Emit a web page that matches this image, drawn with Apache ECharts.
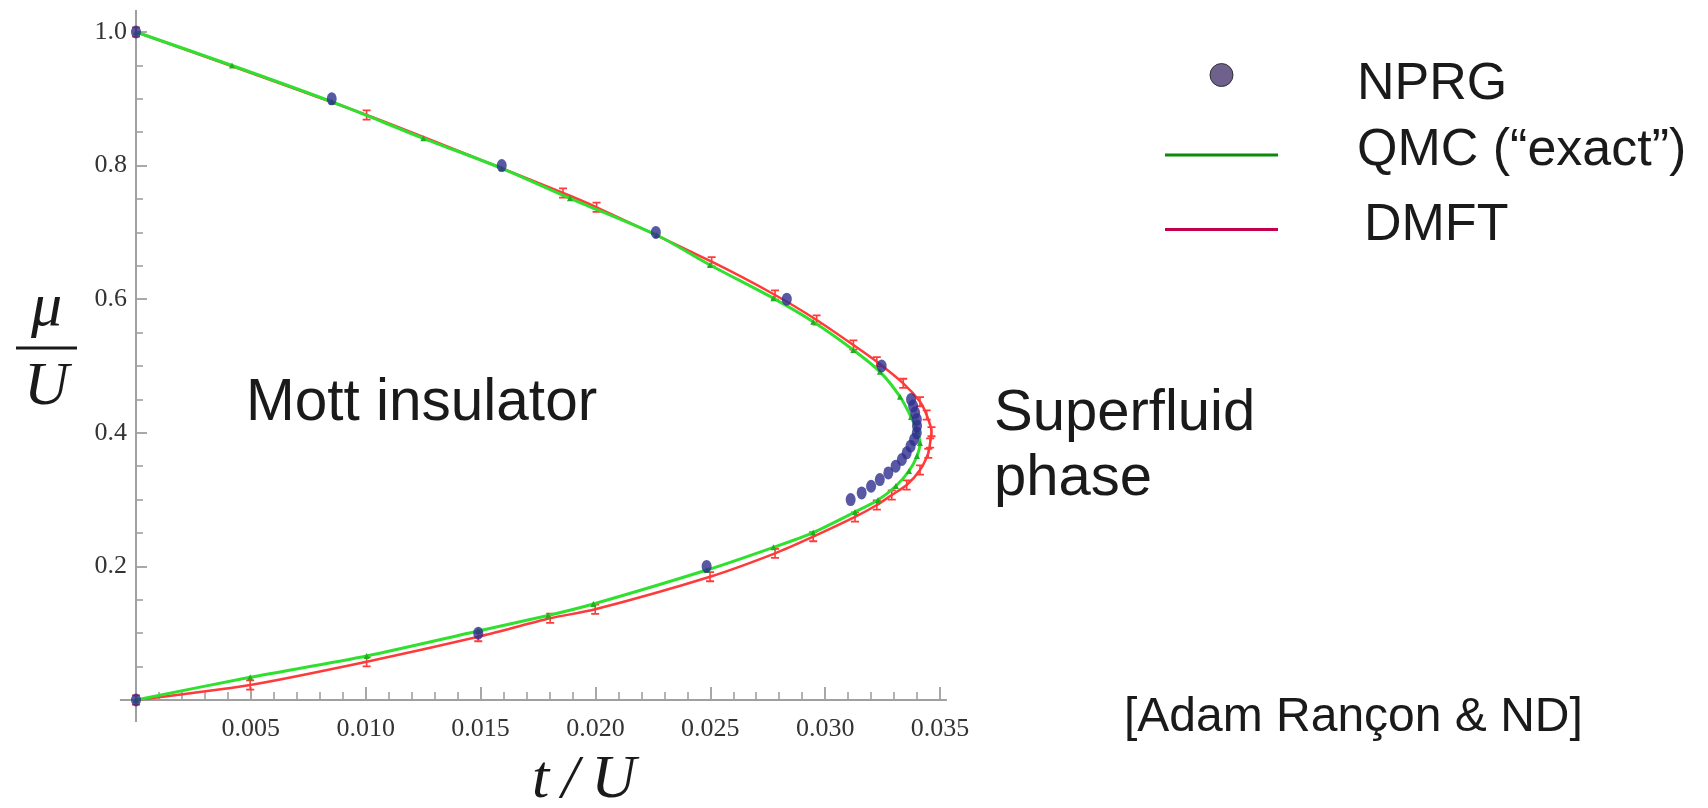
<!DOCTYPE html>
<html><head><meta charset="utf-8">
<script src="https://cdn.jsdelivr.net/npm/echarts@6/dist/echarts.min.js"></script>
<style>html,body{margin:0;padding:0;background:#fff;}#c{width:1708px;height:808px;}</style>
</head><body><div id="c"></div>
<script>
// ---- data (t/U, mu/U) ----
const nprgT  = [0, 0.00852, 0.01592, 0.02263, 0.02833, 0.03246, 0.03374, 0.03383, 0.03392, 0.03399, 0.03400, 0.03399, 0.03387, 0.03372, 0.03355, 0.03334, 0.03307, 0.03275, 0.03238, 0.03200, 0.03159, 0.03111, 0.02484, 0.01490, 0];
const nprgMu = [1.0, 0.9, 0.8, 0.7, 0.6, 0.5, 0.45, 0.44, 0.43, 0.42, 0.41, 0.40, 0.39, 0.38, 0.37, 0.36, 0.35, 0.34, 0.33, 0.32, 0.31, 0.30, 0.2, 0.1, 0.0];

const qmcT  = [0, 0.00418, 0.00852, 0.01251, 0.01592, 0.01889, 0.02266, 0.02499, 0.02775, 0.02948, 0.03123, 0.03238, 0.03326, 0.03374, 0.03400, 0.03413, 0.03400, 0.03365, 0.03308, 0.03230, 0.03130, 0.02948, 0.02775, 0.02485, 0.01991, 0.01794, 0.01490, 0.01004, 0.00497, 0];
const qmcMu = [1.0, 0.9499, 0.8957, 0.8409, 0.7960, 0.7510, 0.6961, 0.6512, 0.6013, 0.5663, 0.5240, 0.4915, 0.4540, 0.4237, 0.4027, 0.3847, 0.3653, 0.3428, 0.3204, 0.2994, 0.2814, 0.2507, 0.2286, 0.1946, 0.1437, 0.1265, 0.1033, 0.0659, 0.0340, 0];

const dmftT  = [0, 0.01004, 0.01859, 0.02005, 0.02506, 0.02782, 0.02963, 0.03123, 0.03225, 0.03340, 0.03413, 0.03442, 0.03463, 0.03457, 0.03449, 0.03413, 0.03355, 0.03290, 0.03225, 0.03130, 0.02948, 0.02782, 0.02499, 0.01999, 0.01803, 0.01490, 0.01004, 0.00497, 0];
const dmftMu = [1.0, 0.8757, 0.7590, 0.7376, 0.6561, 0.6063, 0.5689, 0.5314, 0.5064, 0.4741, 0.4466, 0.4266, 0.4017, 0.3847, 0.3693, 0.3443, 0.3219, 0.3069, 0.2919, 0.2740, 0.2445, 0.2196, 0.1846, 0.1358, 0.1223, 0.0948, 0.0573, 0.0225, 0];

const xTickStep = 0.005;
const yTickStep = 0.2;
const axisExtentT  = [-0.0007, 0.0353];
const axisExtentMu = [-0.033, 1.033];

const pairs = (a, b) => a.map((v, i) => [v, b[i]]);

const chart = echarts.init(document.getElementById('c'));
const serif = 'Liberation Serif';
const sans = 'Liberation Sans';
const legTxt = { fontFamily: sans, fontSize: 52, color: '#1a1a1a' };

chart.setOption({
  animation: false,
  backgroundColor: '#ffffff',
  grid: { left: 136, right: 768, top: 32, bottom: 108, containLabel: false, outerBoundsMode: 'none' },
  xAxis: {
    type: 'value', min: 0, max: 0.035, interval: xTickStep,
    axisLine: { show: true, onZero: true, lineStyle: { color: '#a0a0a0', width: 2 } },
    axisTick: { show: true, inside: true, length: 13, lineStyle: { color: '#8c8c8c', width: 1.5 } },
    minorTick: { show: true, splitNumber: 5, length: 8, lineStyle: { color: '#9a9a9a', width: 1.5 } },
    splitLine: { show: false },
    axisLabel: {
      formatter: v => (Math.abs(v) < 1e-9 ? '' : v.toFixed(3)),
      fontFamily: serif, fontSize: 26, color: '#333', margin: 16
    },
    name: 't\u2009/\u2009U', nameLocation: 'middle', nameGap: 50, nameMoveOverlap: false,
    nameTextStyle: { fontFamily: serif, fontStyle: 'italic', fontSize: 62, color: '#1a1a1a', padding: [0, 0, 0, 92] }
  },
  yAxis: {
    type: 'value', min: 0, max: 1, interval: yTickStep,
    axisLine: { show: true, onZero: true, lineStyle: { color: '#a0a0a0', width: 2 } },
    axisTick: { show: true, inside: true, length: 11, lineStyle: { color: '#8c8c8c', width: 1.5 } },
    minorTick: { show: true, splitNumber: 4, length: 7, lineStyle: { color: '#9a9a9a', width: 1.5 } },
    splitLine: { show: false },
    axisLabel: {
      formatter: v => (Math.abs(v) < 1e-9 ? '' : v.toFixed(1)),
      fontFamily: serif, fontSize: 26, color: '#333', margin: 9
    },
    name: '{a|μ}\n{l| }\n{b|U}', nameLocation: 'middle', nameRotate: 0, nameGap: 59, nameMoveOverlap: false,
    nameTextStyle: {
      padding: [0, 0, 36, 0],
      rich: {
        a: { fontFamily: serif, fontStyle: 'italic', fontSize: 62, lineHeight: 76, color: '#1a1a1a', align: 'center' },
        l: { width: 61, height: 3, lineHeight: 3, fontSize: 1, backgroundColor: '#1a1a1a', align: 'center' },
        b: { fontFamily: serif, fontStyle: 'italic', fontSize: 62, lineHeight: 76, color: '#1a1a1a', align: 'center' }
      }
    }
  },
  legend: {
    orient: 'vertical', left: 1165, top: 48.5, padding: 0, itemGap: 13.5,
    itemWidth: 113, itemHeight: 23, selectedMode: false,
    formatter: name => name === 'NPRG' ? '{s1| }\n{t|' + name + '}'
                     : name === 'DMFT' ? '{s4| }\n{t|' + name + '}\n{s3| }'
                     : '{t|' + name + '}\n{s2| }',
    textStyle: {
      fontFamily: sans, fontSize: 52, color: '#1a1a1a',
      rich: {
        t: Object.assign({ lineHeight: 52 }, legTxt),
        s1: { fontSize: 1, lineHeight: 20 },
        s2: { fontSize: 1, lineHeight: 9 },
        s3: { fontSize: 1, lineHeight: 16 },
        s4: { fontSize: 1, lineHeight: 8 }
      }
    },
    data: [
      { name: 'NPRG', icon: 'circle', itemStyle: { color: '#4a3b70', borderColor: '#1a1a1a', borderWidth: 1 }, textStyle: { padding: [0, 0, 0, 74] } },
      { name: 'QMC (“exact”)', icon: 'path://M0 0H113V3H0Z', itemStyle: { color: '#0c8a0c', borderWidth: 0 }, textStyle: { padding: [0, 0, 0, 74] } },
      { name: 'DMFT', icon: 'path://M0 0H113V3H0Z', itemStyle: { color: '#c4004e', borderWidth: 0 }, textStyle: { padding: [0, 0, 0, 81] } }
    ]
  },
  series: [
    {
      type: 'line', name: 'DMFT', data: pairs(dmftT, dmftMu), smooth: 0.25, clip: false, silent: true,
      symbol: 'path://M0 0H10V2H6V10H10V12H0V10H4V2H0Z', symbolSize: [8, 11], showSymbol: true,
      lineStyle: { color: '#ff3a3a', width: 2.5 }, itemStyle: { color: '#ff3a3a' }, z: 2
    },
    {
      type: 'line', name: 'QMC (“exact”)', data: pairs(qmcT, qmcMu), smooth: 0.25, clip: false, silent: true,
      symbol: 'triangle', symbolSize: 6, showSymbol: true,
      lineStyle: { color: '#2fe02f', width: 3 }, itemStyle: { color: '#1fb01f' }, z: 3
    },
    {
      type: 'scatter', name: 'NPRG', data: pairs(nprgT, nprgMu), clip: false, silent: true,
      symbol: 'circle', symbolSize: [10, 13],
      itemStyle: { color: '#2e2e8e' }, z: 4
    }
  ],
  graphic: [
    { type: 'text', id: 'mott', x: 246, y: 404, style: { text: 'Mott insulator', fontFamily: sans, fontSize: 58.5, fill: '#1a1a1a', align: 'left', verticalAlign: 'middle' } },
    { type: 'text', id: 'sf', x: 994, y: 446, style: { text: 'Superfluid\nphase', fontFamily: sans, fontSize: 58, lineHeight: 65, fill: '#1a1a1a', align: 'left', verticalAlign: 'middle' } },
    { type: 'text', id: 'cred', x: 1124, y: 718, style: { text: '[Adam Rançon & ND]', fontFamily: sans, fontSize: 48, fill: '#1a1a1a', align: 'left', verticalAlign: 'middle' } }
  ]
});

// extend the Mathematica-style axes slightly beyond their ranges
const pY0 = chart.convertToPixel({ gridIndex: 0 }, [0, axisExtentMu[0]]);
const pY1 = chart.convertToPixel({ gridIndex: 0 }, [0, axisExtentMu[1]]);
const pX0 = chart.convertToPixel({ gridIndex: 0 }, [axisExtentT[0], 0]);
const pX1 = chart.convertToPixel({ gridIndex: 0 }, [axisExtentT[1], 0]);
chart.setOption({
  graphic: [
    { type: 'line', id: 'yext', z: 1, shape: { x1: pY0[0], y1: pY0[1], x2: pY1[0], y2: pY1[1] }, style: { stroke: '#a0a0a0', lineWidth: 2 } },
    { type: 'line', id: 'xext', z: 1, shape: { x1: pX0[0], y1: pX0[1], x2: pX1[0], y2: pX1[1] }, style: { stroke: '#a0a0a0', lineWidth: 2 } }
  ]
});
</script>
</body></html>
